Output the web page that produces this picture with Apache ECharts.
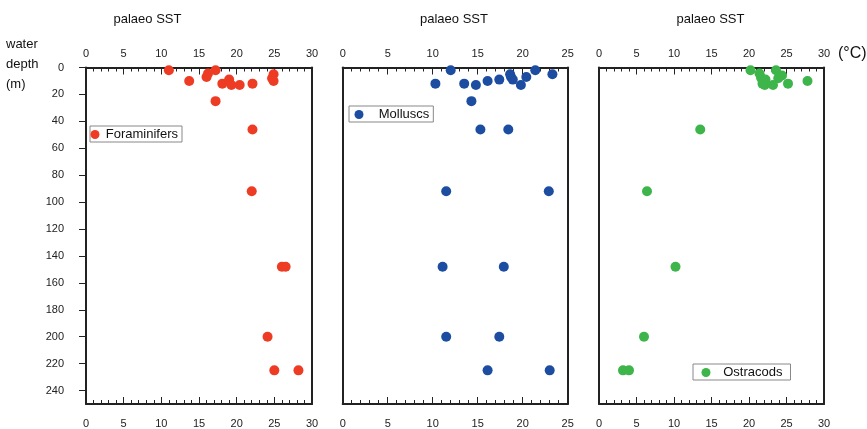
<!DOCTYPE html>
<html><head><meta charset="utf-8">
<script src="https://cdn.jsdelivr.net/npm/echarts@6/dist/echarts.min.js"></script>
<style>html,body{margin:0;padding:0;background:#fff}#c{width:867px;height:429px}</style>
</head><body><div id="c"></div>
<script>
// ---- data ----
const foramSST   = [11.0, 13.7, 16.0, 16.2, 17.2, 18.1, 19.0, 19.3, 20.4, 22.1, 24.9, 24.7, 24.9, 17.2, 22.1, 22.0, 26.0, 26.5, 24.1, 25.0, 28.2];
const foramDepth = [2,    10,   7,    4.5,  2,    12,   9,    13,   13,   12,   5,    8,    10,   25,   46,   92,   148,  148,  200,  225,  225];

const mollSST    = [10.3, 12.0, 13.5, 14.8, 14.3, 16.1, 17.4, 18.6, 18.7, 18.9, 19.8, 20.4, 21.4, 23.3, 15.3, 18.4, 11.5, 22.9, 11.1, 17.9, 11.5, 17.4, 16.1, 23.0];
const mollDepth  = [12,   2,    12,   13,   25,   10,   9,    5,    7,    9,    13,   7,    2,    5,    46,   46,   92,   92,   148,  148,  200,  200,  225,  225];

const ostraSST   = [20.2, 21.4, 21.6, 21.9, 22.2, 22.1, 21.8, 23.6, 23.2, 24.4, 23.9, 25.2, 27.8, 13.5, 6.4, 10.2, 6.0, 3.2, 4.0];
const ostraDepth = [2,    4.5,  7.5,  11,   9,    13,   12,   2,    13,   6,    8,    12,   10,   46,   92,  148,  200, 225, 225];

const seriesNames = ['Foraminifers', 'Molluscs', 'Ostracods'];
const sstMax = [30, 25, 30];
const depthMax = 250;
const depthTicks = [0, 20, 40, 60, 80, 100, 120, 140, 160, 180, 200, 220, 240];
const panelTitle = 'palaeo SST';

// ---- layout ----
const colors = ['#EE3B24', '#1C4DA1', '#3DB54A'];
const gridLefts = [86, 342.7, 599];
const gridWidths = [226, 225, 225];
const gridTop = 67.5, gridHeight = 340;
const FONT = 'Liberation Sans';
const axisColor = '#222';

const grids = gridLefts.map((l, i) => ({left: l, top: gridTop, width: gridWidths[i], height: gridHeight}));

function xAx(g, pos) {
  return {
    gridIndex: g, type: 'value', position: pos, min: 0, max: sstMax[g], interval: 5,
    axisLine: {show: true, onZero: false, lineStyle: {color: axisColor, width: 2}},
    axisTick: {show: true, inside: true, length: 7, lineStyle: {color: axisColor, width: 1}},
    minorTick: {show: true, splitNumber: 5, length: 4, lineStyle: {color: axisColor, width: 1}},
    splitLine: {show: false}, minorSplitLine: {show: false},
    axisLabel: {show: true, margin: pos === 'top' ? 8 : 14, fontSize: 11, color: '#222', fontFamily: FONT}
  };
}
const xAxes = [];
for (let g = 0; g < 3; g++) { xAxes.push(xAx(g, 'bottom')); xAxes.push(xAx(g, 'top')); }

const yAxes = [];
for (let g = 0; g < 3; g++) {
  yAxes.push({
    gridIndex: g, type: 'value', position: 'left', inverse: true, min: 0, max: depthMax, interval: 20,
    axisLine: {show: true, onZero: false, lineStyle: {color: axisColor, width: 2}},
    axisTick: {show: g === 0, inside: false, length: 7, customValues: depthTicks, lineStyle: {color: axisColor, width: 1}},
    axisLabel: {show: g === 0, customValues: depthTicks, margin: 22, fontSize: 11, color: '#222', fontFamily: FONT},
    splitLine: {show: false}
  });
  yAxes.push({
    gridIndex: g, type: 'value', position: 'right', inverse: true, min: 0, max: depthMax,
    axisLine: {show: true, onZero: false, lineStyle: {color: axisColor, width: 2}},
    axisTick: {show: false}, axisLabel: {show: false}, splitLine: {show: false}
  });
}

const dataSets = [[foramSST, foramDepth], [mollSST, mollDepth], [ostraSST, ostraDepth]];
const series = dataSets.map((d, g) => ({
  name: seriesNames[g], type: 'scatter', xAxisIndex: g * 2, yAxisIndex: g * 2,
  symbol: 'circle', symbolSize: 10, itemStyle: {color: colors[g], opacity: 1},
  data: d[0].map((v, i) => [v, d[1][i]])
}));

const legendPos = [
  {left: 90, top: 126, itemWidth: 11.5, padding: [2, 4, 1, 0.5], textPad: 0},
  {left: 349, top: 106, itemWidth: 23.5, padding: [2, 4, 1, 5.5], textPad: 3},
  {left: 693, top: 364, itemWidth: 20.5, padding: [2, 8, 1, 8.5], textPad: 2}
];
const legends = legendPos.map((p, g) => ({
  data: [seriesNames[g]], left: p.left, top: p.top, orient: 'horizontal',
  itemWidth: p.itemWidth, itemHeight: 9, padding: p.padding, icon: 'circle',
  borderColor: '#888', borderWidth: 1, backgroundColor: '#fff',
  textStyle: {fontSize: 13, color: '#111', fontFamily: FONT, padding: [0, 0, 0, p.textPad]}, selectedMode: false
}));

const titleCenters = [148.5, 455, 711.5];
const graphics = titleCenters.map(cx => ({
  type: 'text', left: cx - 35, top: 13,
  style: {text: panelTitle, font: '13px "Liberation Sans"', fill: '#111'}
}));
graphics.push({type: 'text', left: 6, top: 38, style: {text: 'water', font: '13px "Liberation Sans"', fill: '#111'}});
graphics.push({type: 'text', left: 6, top: 58, style: {text: 'depth', font: '13px "Liberation Sans"', fill: '#111'}});
graphics.push({type: 'text', left: 6, top: 78, style: {text: '(m)', font: '13px "Liberation Sans"', fill: '#111'}});
graphics.push({type: 'text', left: 838, top: 46, style: {text: '(°C)', font: '16px "Liberation Sans"', fill: '#111'}});

const chart = echarts.init(document.getElementById('c'), null, {renderer: 'canvas'});
chart.setOption({
  animation: false,
  backgroundColor: '#fff',
  grid: grids, xAxis: xAxes, yAxis: yAxes, series: series,
  legend: legends, graphic: graphics
});
</script></body></html>
